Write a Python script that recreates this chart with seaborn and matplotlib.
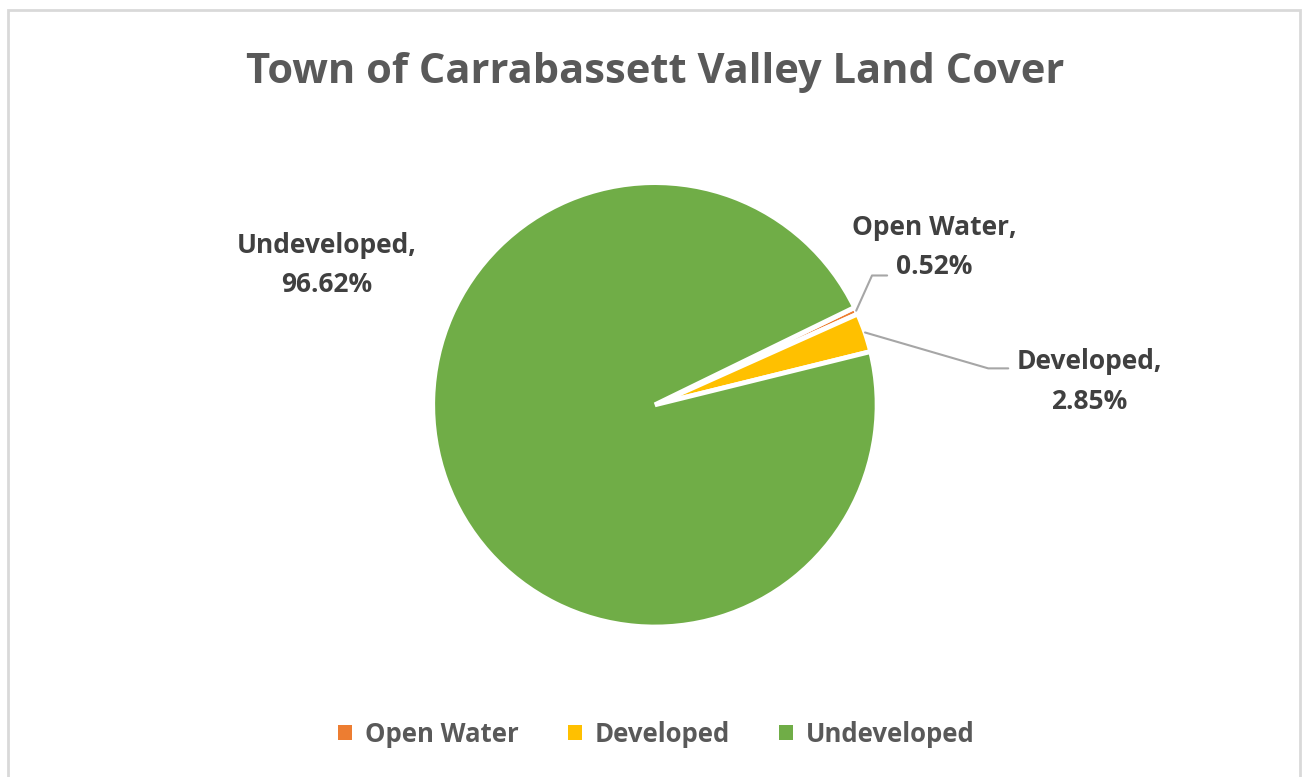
import numpy as np
import matplotlib
matplotlib.use("Agg")
import matplotlib.pyplot as plt
import matplotlib.patches as mpatches
import seaborn as sns

# data
categories = ["Open Water", "Developed", "Undeveloped"]
shares     = [0.52, 2.85, 96.62]
colors     = ["#ED7D31", "#FFC000", "#70AD47"]
title      = "Town of Carrabassett Valley Land Cover"

START_ANGLE = 26

sns.set_theme(style="white")
plt.rcParams["font.family"] = ["Open Sans", "DejaVu Sans"]

fig = plt.figure(figsize=(13.02, 7.77), dpi=100)
fig.patch.set_facecolor("white")

# light gray chart frame
fig.add_artist(mpatches.Rectangle(
    (8 / 1302, -0.01), 1292 / 1302, 1 - 10 / 777 + 0.01,
    transform=fig.transFigure, fill=False, edgecolor="#D9D9D9", linewidth=2,
))

ax = fig.add_axes([0.332, 0.193, 0.342, 0.572])
palette = sns.color_palette(colors)
wedges, _ = ax.pie(
    shares, colors=palette, startangle=START_ANGLE, counterclock=False,
    radius=1, wedgeprops=dict(edgecolor="white", linewidth=3.5),
)
ax.set_xlim(-1, 1)
ax.set_ylim(-1, 1)
ax.set_aspect("equal")
ax.axis("off")

fig.text(0.503, 0.907, title, ha="center", va="center",
         fontsize=30, fontweight="bold", color="#595959")

label_kw = dict(ha="center", va="center", fontsize=19, fontweight="bold",
                color="#404040", linespacing=1.6)
line_kw = dict(color="#A6A6A6", linewidth=1.5, clip_on=False)

text_pos = {
    "Open Water": (1.259, 0.71),
    "Developed": (1.955, 0.105),
    "Undeveloped": (-1.477, 0.63),
}
elbow = {
    "Open Water": [(0.977, 0.582), (1.045, 0.582)],
    "Developed": [(1.50, 0.164), (1.59, 0.164)],
}

for w, name, val in zip(wedges, categories, shares):
    tx, ty = text_pos[name]
    ax.text(tx, ty, f"{name},\n{val:.2f}%", **label_kw)
    if name in elbow:
        mid = np.deg2rad((w.theta1 + w.theta2) / 2)
        pts = [(np.cos(mid), np.sin(mid))] + elbow[name]
        xs, ys = zip(*pts)
        ax.plot(xs, ys, **line_kw)

handles = [mpatches.Patch(facecolor=c, edgecolor="none", label=n)
           for n, c in zip(categories, palette)]
leg = fig.legend(handles=handles, loc="center", bbox_to_anchor=(0.504, 0.055),
                 ncol=3, frameon=False, handlelength=0.55, handleheight=0.55,
                 handletextpad=0.5, columnspacing=1.9,
                 prop=dict(size=18.5, weight="bold"))
for t in leg.get_texts():
    t.set_color("#595959")

plt.savefig("out.png", dpi=100)
plt.close()
